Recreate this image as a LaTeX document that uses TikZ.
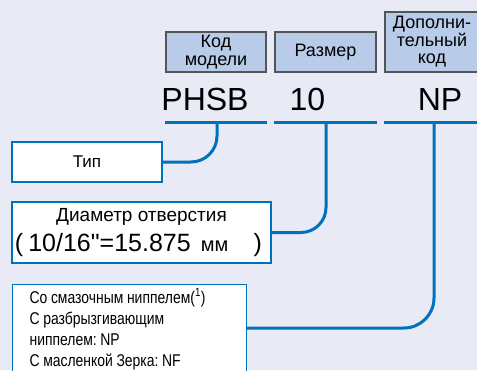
\documentclass[tikz,border=0pt]{standalone}
\usepackage{fontspec}
\setmainfont{Liberation Sans}
\newfontfamily\narrowfont[FakeStretch=0.82]{Liberation Sans}
\newfontfamily\sizefont{Liberation Sans}
\usetikzlibrary{positioning}
\definecolor{chartBack}{RGB}{232,234,246}
\definecolor{headFill}{RGB}{184,203,233}
\definecolor{headLine}{RGB}{85,85,85}
\definecolor{linkBlue}{RGB}{0,114,188}
\tikzset{
  HeadBox/.style  = {draw=headLine, line width=1.2pt, fill=headFill, align=center,
                     inner sep=0pt, font=\fontsize{18}{17.5}\selectfont},
  CodeText/.style = {anchor=base, inner sep=0pt, font=\fontsize{32}{32}\selectfont},
  NoteBox/.style  = {draw=linkBlue, line width=1.2pt, fill=white, inner sep=0pt},
  Link/.style     = {line width=3pt, color=linkBlue},
}
\frenchspacing

\begin{document}
\begin{tikzpicture}[x=1pt, y=-1pt]
  \clip (0,0) rectangle (477,370);
  \fill[chartBack] (0,0) rectangle (477,370);
  % header boxes
  \node[HeadBox, minimum width=100pt, minimum height=40pt] (hModel) at (216,52) {Код\\модели};
  \node[HeadBox, minimum width=101pt, minimum height=40pt] (hSize)  at (325.5,52) {Размер};
  \node[HeadBox, minimum width=94pt,  minimum height=60pt] (hExtra) at (432,42) {Дополни-\\тельный\\код};
  % code
  \node[CodeText] (cModel) at (205,110)   {PHSB};
  \node[CodeText] (cSize)  at (307.5,110) {10};
  \node[CodeText] (cExtra) at (440,110)   {NP};
  \coordinate (tModel) at (217,122);
  \coordinate (tSize)  at (326,122);
  \coordinate (tExtra) at (434,122);
  \draw[Link] (hModel.west |- tModel) -- (hModel.east |- tModel);
  \draw[Link] (hSize.west |- tSize)   -- (hSize.east |- tSize);
  \draw[Link] (hExtra.west |- tExtra) -- (hExtra.east |- tExtra);
  % explanation boxes
  \node[NoteBox, minimum width=150pt, minimum height=40pt, font=\fontsize{17}{17}\selectfont]
    (nType) at (87,162) {Тип};
  \node[NoteBox, minimum width=259pt, minimum height=61pt, align=center,
        font=\fontsize{19}{30}\selectfont] (nBore) at (141.5,232.5)
    {Диаметр отверстия\\\hspace*{-6pt}\makebox[247pt][l]{\sizefont\fontsize{25}{30}\selectfont
     (\hspace{5pt}10/16"=15.875\hspace{10pt}{\fontsize{20}{30}\selectfont мм}\hfill)}};
  \node[NoteBox, anchor=north west, minimum width=234pt, inner xsep=17pt, inner ysep=4pt,
        text width=200pt, align=left,
        font=\narrowfont\fontsize{17}{21}\selectfont] (nExtra) at (12,284)
    {\frenchspacing\spaceskip=3.6pt plus 1pt\relax Со смазочным ниппелем(\textsuperscript{1})\\С разбрызгивающим\\ниппелем: NP\\С масленкой Зерка: NF\rule[-12pt]{0pt}{1pt}};
  % connectors
  \draw[Link, rounded corners=26pt] (nType.east) -| (tModel);
  \draw[Link, rounded corners=25pt] (nBore.east) -| (tSize);
  \draw[Link, rounded corners=30pt] ([yshift=-44pt]nExtra.north east) -| (tExtra);
\end{tikzpicture}
\end{document}
